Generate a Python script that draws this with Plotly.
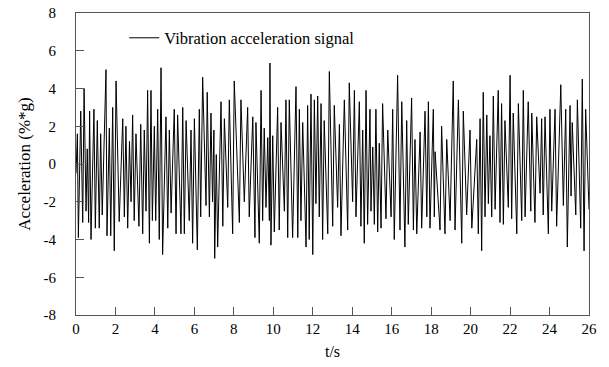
import plotly.graph_objects as go

# Time (s) of each turning point
t_s = [0.00, 0.07, 0.12, 0.24, 0.34, 0.41, 0.51, 0.57, 0.64, 0.69, 0.76, 0.91, 0.98, 1.08, 1.18, 1.25, 1.33, 1.52, 1.57, 1.69,
       1.76, 1.86, 1.94, 2.03, 2.19, 2.37, 2.45, 2.53, 2.62, 2.71, 2.79, 2.87, 2.95, 3.04, 3.19, 3.28, 3.38, 3.46, 3.55, 3.63,
       3.72, 3.80, 3.87, 3.97, 4.04, 4.14, 4.22, 4.31, 4.39, 4.56, 4.65, 4.73, 4.82, 4.98, 5.07, 5.15, 5.32, 5.41, 5.49, 5.58,
       5.74, 5.83, 5.91, 6.00, 6.15, 6.25, 6.32, 6.42, 6.59, 6.65, 6.76, 6.84, 6.92, 6.99, 7.03, 7.11, 7.18, 7.35, 7.44, 7.52,
       7.69, 7.77, 7.94, 8.02, 8.28, 8.36, 8.53, 8.70, 8.78, 8.96, 9.07, 9.12, 9.29, 9.38, 9.46, 9.54, 9.63, 9.72, 9.80, 9.83,
       9.88, 9.97, 10.05, 10.22, 10.30, 10.39, 10.56, 10.64, 10.73, 10.81, 10.98, 11.15, 11.24, 11.32, 11.40, 11.49, 11.66, 11.74, 11.82, 11.91,
       12.00, 12.08, 12.16, 12.25, 12.33, 12.42, 12.50, 12.58, 12.76, 12.84, 13.01, 13.09, 13.26, 13.35, 13.43, 13.60, 13.77, 13.85, 14.02, 14.11,
       14.19, 14.36, 14.44, 14.53, 14.61, 14.70, 14.78, 14.90, 14.95, 15.04, 15.12, 15.20, 15.29, 15.37, 15.46, 15.54, 15.71, 15.80, 15.97, 16.05,
       16.13, 16.30, 16.42, 16.51, 16.67, 16.76, 16.84, 17.01, 17.10, 17.18, 17.27, 17.44, 17.52, 17.69, 17.78, 17.86, 17.94, 18.11, 18.16, 18.20,
       18.45, 18.53, 18.70, 18.79, 18.96, 19.12, 19.21, 19.38, 19.55, 19.63, 19.80, 19.97, 20.06, 20.31, 20.39, 20.48, 20.56, 20.64, 20.73, 20.82,
       20.90, 20.98, 21.07, 21.15, 21.24, 21.40, 21.49, 21.57, 21.66, 21.74, 21.91, 22.00, 22.08, 22.16, 22.34, 22.42, 22.59, 22.67, 22.76, 22.92,
       23.05, 23.10, 23.26, 23.35, 23.52, 23.60, 23.68, 23.77, 23.94, 24.02, 24.11, 24.28, 24.36, 24.57, 24.70, 24.82, 24.90, 25.04, 25.09, 25.15,
       25.33, 25.41, 25.58, 25.66, 25.75, 25.83, 26.00]

# Acceleration (%*g) at each turning point
accel = [-0.5, 1.6, -3.9, 2.8, -3.1, 4.0, -2.5, 0.8, -3.1, 2.8, -4.0, 2.9, -3.4, 2.3, -3.4, 1.6, -2.7, 5.0, -3.8, 1.9,
         -3.8, 3.0, -4.6, 4.4, -3.05, 2.4, -2.8, 2.0, -3.4, 1.2, -2.0, 2.6, -3.0, 1.6, -3.3, 2.1, -3.7, 1.8, -2.5, 3.9,
         -4.2, 3.9, -3.0, 2.0, -3.0, 2.9, -4.0, 5.1, -4.8, 2.5, -3.4, 1.8, -2.6, 2.9, -3.7, 2.6, -3.7, 3.0, -3.7, 2.3,
         -3.0, 1.8, -4.2, 2.4, -4.55, 2.9, -2.8, 4.6, -2.2, 3.8, -2.8, 2.7, -2.0, 1.8, -5.0, 0.5, -4.4, 3.3, -3.3, 2.4,
         -2.3, 3.4, -3.7, 4.4, -3.1, 3.4, -2.0, 3.0, -2.8, 2.5, -3.9, 2.2, -4.2, 3.9, -3.0, 1.9, -2.3, 1.4, -3.0, 5.35,
         -4.3, 1.5, -3.6, 3.0, -3.5, 2.2, -2.5, 3.4, -3.9, 3.4, -3.9, 4.1, -3.9, 2.9, -3.0, 2.2, -4.4, 3.1, -4.0, 3.7,
         -4.8, 3.4, -2.1, 3.6, -2.8, 3.2, -4.0, 2.3, -3.7, 4.9, -3.3, 3.1, -2.3, 2.1, -3.8, 3.4, -3.5, 4.3, -2.0, 3.9,
         -2.8, 3.3, -3.3, 1.8, -4.2, 3.9, -3.2, 2.9, -2.5, 0.9, -3.2, 2.9, -3.6, 1.1, -3.4, 3.2, -2.9, 1.8, -2.8, 2.9,
         -4.0, 4.7, -3.5, 3.3, -4.4, 2.3, -3.2, 3.5, -3.5, 1.3, -3.7, 1.7, -3.4, 2.8, -2.8, 3.3, -3.4, 2.9, -2.8, 0.65,
         -3.5, 2.0, -3.7, 1.3, -3.0, 4.4, -3.5, 3.4, -4.2, 2.8, -2.7, 1.8, -3.4, 1.3, -3.7, 2.4, -4.6, 3.8, -2.8, 2.6,
         -2.1, 1.5, -2.8, 3.6, -2.4, 3.9, -3.1, 3.2, -3.2, 2.3, -2.3, 4.7, -2.9, 2.7, -3.7, 3.2, -3.0, 3.9, -2.8, 3.3,
         -2.5, 2.7, -3.1, 2.5, -1.55, 2.4, -2.7, 2.5, -3.7, 2.9, -2.5, 2.9, -3.3, 4.2, -2.2, 2.9, -4.4, 3.1, -1.7, 2.2,
         -2.7, 3.4, -3.4, 4.5, -4.6, 2.9, -2.4]

x_ticks = list(range(0, 27, 2))
y_ticks = list(range(-8, 9, 2))
y_tick_labels = ["-8", "-6", "-4", "-2", "0", "2", "4", "6", "8"]

font_family = "Liberation Serif, Times New Roman, serif"

fig = go.Figure()
fig.add_trace(go.Scatter(
    x=t_s, y=accel, mode="lines",
    line=dict(color="black", width=1),
    name="Vibration acceleration signal",
))

axis_common = dict(
    showgrid=False, zeroline=False, automargin=False,
    showline=True, linecolor="#555555", linewidth=1, mirror=True,
    ticks="inside", ticklen=8, tickcolor="#555555", tickwidth=1,
    tickfont=dict(family=font_family, size=15, color="black"),
)

fig.update_layout(
    width=609, height=367,
    margin=dict(l=76, r=20, t=13, b=52),
    paper_bgcolor="white", plot_bgcolor="white",
    font=dict(family=font_family, size=15, color="black"),
    showlegend=True,
    legend=dict(x=0.094, y=0.917, xanchor="left", yanchor="middle",
                bgcolor="rgba(0,0,0,0)", font=dict(family=font_family, size=16.5)),
    xaxis=dict(range=[0, 26], tickvals=x_ticks, ticklabelstandoff=0,
               title=dict(text="t/s", font=dict(family=font_family, size=16), standoff=9),
               **axis_common),
    yaxis=dict(range=[-8, 8], tickvals=y_ticks, ticktext=y_tick_labels, ticklabelstandoff=16,
               title=dict(text="Acceleration (%*g)", font=dict(family=font_family, size=17), standoff=8),
               **axis_common),
)

fig.write_html("out.html", config={"displayModeBar": False},
               post_script="document.body.style.margin='0';")
